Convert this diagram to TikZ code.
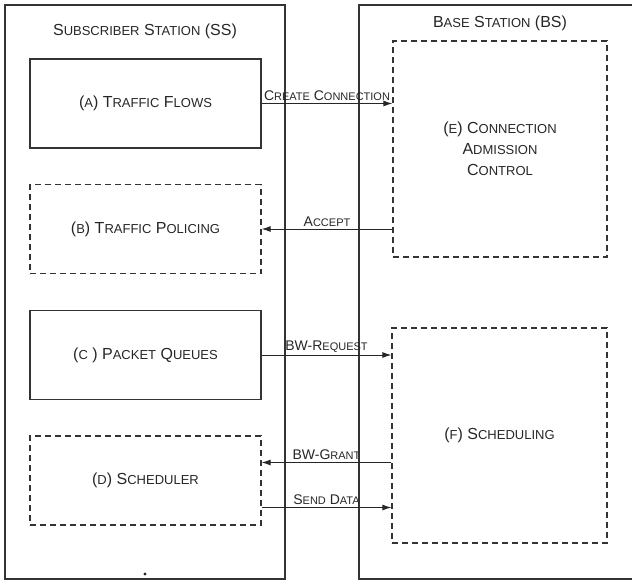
\documentclass[tikz,border=0pt]{standalone}
\usepackage{fontspec}
\setmainfont{Liberation Sans}
\usetikzlibrary{arrows.meta}

% fake small caps
\newcommand{\lc}[1]{{\fontsize{13}{15}\selectfont #1}}
\newcommand{\slc}[1]{{\fontsize{11}{13}\selectfont #1}}

\begin{document}
\begin{tikzpicture}[x=1pt,y=-1pt]
\tikzset{
  station/.style={draw=black!80, line width=1.2pt, minimum width=280pt, minimum height=574pt, inner sep=0pt},
  solidbox/.style={draw=black!80, line width=1.2pt, minimum width=231pt, minimum height=89pt, inner sep=0pt, font=\fontsize{16}{19}\selectfont, text=black!85},
  dashbox/.style={solidbox, dash pattern=on 6pt off 4pt},
  title/.style={font=\fontsize{16}{19}\selectfont, text=black!85, inner sep=0pt},
  msg/.style={draw=black!85, line width=1pt, -{Latex[length=9pt,width=6pt]}},
  msglabel/.style={midway, above=2pt, inner sep=0pt, font=\fontsize{14}{16}\selectfont, text=black!85}
}
\useasboundingbox (0,0) rectangle (632,581);

% the two stations
\node[station] (SS) at (145,292) {};
\node[station] (BS) at (499,292) {};
\node[title] (SStitle) at (145,31) {S\lc{UBSCRIBER} S\lc{TATION} (SS)};
\node[title] (BStitle) at (500,23) {B\lc{ASE} S\lc{TATION} (BS)};

% subscriber station blocks
\node[solidbox] (A) at (145.5,103.5) {(\lc{A}) T\lc{RAFFIC} F\lc{LOWS}};
\node[dashbox] (B) at (145.5,229) {(\lc{B}) T\lc{RAFFIC} P\lc{OLICING}};
\node[solidbox] (C) at (145.5,355) {(\lc{C} ) P\lc{ACKET} Q\lc{UEUES}};
\node[dashbox] (D) at (145.5,480.5) {(\lc{D}) S\lc{CHEDULER}};

% base station blocks
\node[dashbox, minimum width=214pt, minimum height=216pt, align=center] (E) at (500,149)
  {(\lc{E}) C\lc{ONNECTION}\\[2pt] A\lc{DMISSION}\\[2pt] C\lc{ONTROL}};
\node[dashbox, minimum width=215pt, minimum height=215pt] (F) at (499.5,435.5) {(\lc{F}) S\lc{CHEDULING}};

% messages
\coordinate (grant) at ([yshift=18pt]D.east);
\coordinate (send) at ([yshift=-27pt]D.east);
\draw[msg] (A.east) -- (A.east -| E.west) node[msglabel] {C\slc{REATE} C\slc{ONNECTION}};
\draw[msg] (B.east -| E.west) -- (B.east) node[msglabel] {A\slc{CCEPT}};
\draw[msg] (C.east) -- (C.east -| F.west) node[msglabel] {BW-R\slc{EQUEST}};
\draw[msg] (grant -| F.west) -- (grant) node[msglabel] {BW-G\slc{RANT}};
\draw[msg] (send) -- (send -| F.west) node[msglabel] {S\slc{END} D\slc{ATA}};

\fill[black!85] (145,574) circle (1.6pt);
\end{tikzpicture}
\end{document}
